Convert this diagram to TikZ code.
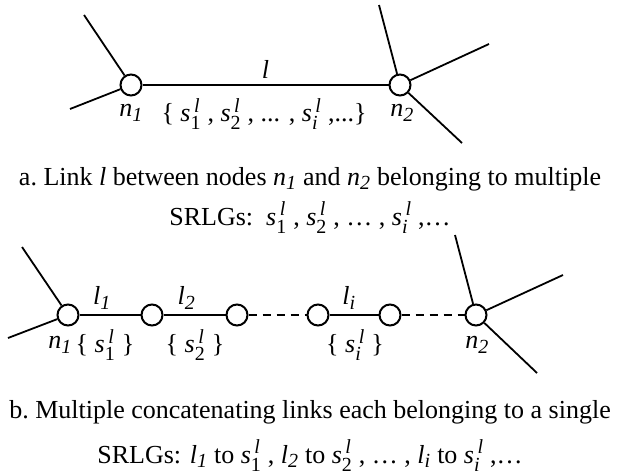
\documentclass[tikz,border=0pt]{standalone}
\usepackage{amsmath}
\usepackage{fontspec}
\setmainfont{Liberation Serif}
\usetikzlibrary{calc}
\DeclareMathSizes{26}{26}{20}{15}

%% SRLG symbol s^l_k
\newcommand{\srl}[1]{$\textit{s}^{\,\textit{l}}_{#1}$}

\begin{document}
\begin{tikzpicture}[x=1pt,y=-1pt,font=\fontsize{26}{30}\selectfont,
  router/.style={circle,draw,line width=2pt,fill=white,minimum size=21pt,inner sep=0pt},
  wire/.style={line width=1.8pt},
  gap/.style={wire,dash pattern=on 8pt off 6pt},
  caption/.style={anchor=base,inner sep=0pt}]
\useasboundingbox (0,0) rectangle (620,474);

%% a. one link l between n1 and n2
\node[router] (a1) at (131,85) {};
\node[router] (a2) at (400,85) {};
\foreach \n/\x/\y in {a1u/84/15, a1d/70/109, a2u/379/5, a2r/489/44, a2d/462/143}
  \coordinate (\n) at (\x,\y);
\foreach \n/\m in {a1u/a1, a1d/a1, a2u/a2, a2r/a2, a2d/a2}
  \draw[wire] (\n) -- (\m);
\draw[wire] (a1) -- node[pos=.5,above,inner sep=6pt] (al) {\textit{l}} (a2);
\node (an1) at (131,113) {\textit{n}$_{\textit{1}}$};
\node (an2) at (402,113) {\textit{n}$_{\textit{2}}$};
\node (aset) at (264,114) {\{ \srl{\text{1}} , \srl{\text{2}} , ... , \srl{\textit{i}} ,...\}};

\node[caption] (capa1) at (310,185) {a.\ Link \textit{l} between nodes \textit{n}$_{\textit{1}}$ and \textit{n}$_{\textit{2}}$ belonging to multiple};
\node[caption] (capa2) at (310,225) {SRLGs:\ \ \srl{\text{1}} , \srl{\text{2}} , \dots\ , \srl{\textit{i}} ,\dots};

%% b. chain of links l1, l2, ..., li each in one SRLG
\foreach \n/\x in {b1/68, b2/152, b3/237, b4/318, b5/390, b6/476}
  \node[router] (\n) at (\x,315) {};
\foreach \n/\x/\y in {b1u/22/247, b1d/8/338, b6u/455/235, b6r/563/275, b6d/537/373}
  \coordinate (\n) at (\x,\y);
\foreach \n/\m in {b1u/b1, b1d/b1, b6u/b6, b6r/b6, b6d/b6}
  \draw[wire] (\n) -- (\m);
\draw[wire] (b1) -- node[pos=.37,above,inner sep=5pt] (bl1) {\textit{l}$_{\textit{1}}$} (b2);
\draw[wire] (b2) -- node[pos=.37,above,inner sep=5pt] (bl2) {\textit{l}$_{\textit{2}}$} (b3);
\draw[wire] (b4) -- node[pos=.40,above,inner sep=5pt] (bli) {\textit{l}$_{\textit{i}}$} (b5);
\draw[gap] (b3) -- (b4);
\draw[gap] (b5) -- (b6);
\node (bn1) at (60,345) {\textit{n}$_{\textit{1}}$};
\node (bs1) at (105,345) {\{ \srl{\text{1}} \}};
\node (bs2) at (195,345) {\{ \srl{\text{2}} \}};
\node (bsi) at (355,345) {\{ \srl{\textit{i}} \}};
\node (bn2) at (477,345) {\textit{n}$_{\textit{2}}$};

\node[caption] (capb1) at (310,418) {b.\ Multiple concatenating links each belonging to a single};
\node[caption] (capb2) at (310,463) {SRLGs: \textit{l}$_{\textit{1}}$ to \srl{\text{1}} , \textit{l}$_{\textit{2}}$ to \srl{\text{2}} , \dots\ , \textit{l}$_{\textit{i}}$ to \srl{\textit{i}} ,\dots};
\end{tikzpicture}
\end{document}
